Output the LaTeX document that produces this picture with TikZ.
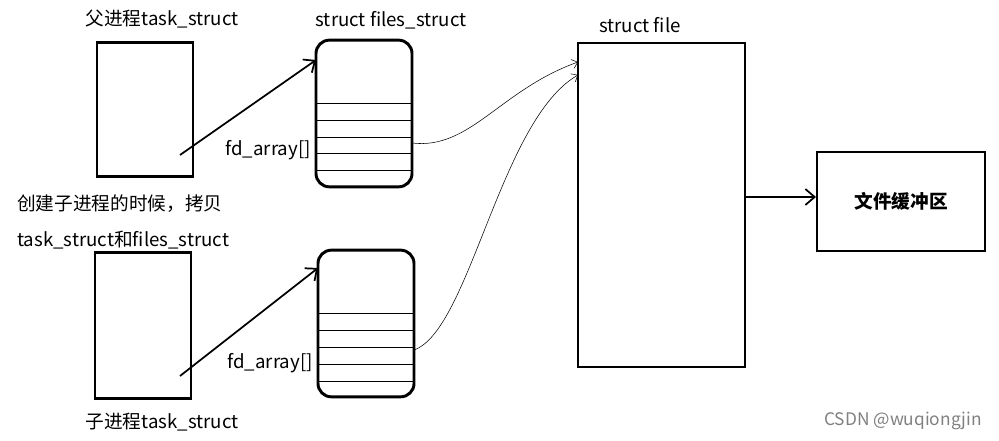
\documentclass[tikz,border=0pt]{standalone}
\usepackage{fontspec}
\setmainfont{Noto Sans CJK SC}
\usetikzlibrary{arrows.meta}
\begin{document}
\begin{tikzpicture}[x=0.75pt,y=-0.75pt,
  box/.style={draw,line width=2.2pt},
  lbl/.style={font=\fontsize{14}{16}\selectfont,inner sep=0pt},
  big/.style={-{Straight Barb[length=7pt,width=12pt]},line width=1.3pt},
  thin/.style={-{Straight Barb[length=4pt,width=7pt]},line width=0.4pt}]
\useasboundingbox (0,0) rectangle (999,441);
% parent
\node[box,minimum width=72pt,minimum height=101pt,inner sep=0pt] (pt) at (145,109.5) {};
\node[lbl] (ptl) at (162,19) {父进程task\_struct};
\node[box,rounded corners=10pt,minimum width=72pt,minimum height=110pt,inner sep=0pt] (pf) at (364,113.5) {};
\foreach \y in {103,120,137,153,170} \draw[line width=0.6pt] (316,\y) -- (412,\y);
\node[lbl] (pfl) at (391,20) {struct files\_struct};
\coordinate (pa) at (180,155);
\coordinate (pb) at (316,60);
\draw[big] (pa) -- (pb);
\node[lbl] (fd1) at (268,150) {fd\_array[]};
% child
\node[box,minimum width=72pt,minimum height=109pt,inner sep=0pt] (ct) at (143,325.5) {};
\node[box,rounded corners=10pt,minimum width=72pt,minimum height=110pt,inner sep=0pt] (cf) at (366,323.5) {};
\foreach \y in {313,330,347,364,381} \draw[line width=0.6pt] (318,\y) -- (414,\y);
\coordinate (ca) at (180,376);
\coordinate (cb) at (318,268);
\draw[big] (ca) -- (cb);
\node[lbl] (fd2) at (270,363) {fd\_array[]};
\node[lbl,anchor=west] (t1) at (17,204) {创建子进程的时候，拷贝};
\node[lbl,anchor=west] (t2) at (17,240) {task\_struct和files\_struct};
\node[lbl] (ctl) at (162,422) {子进程task\_struct};
% struct file
\node[draw,line width=1.5pt,minimum width=125pt,minimum height=243pt,inner sep=0pt] (sf) at (661.5,205) {};
\node[lbl] (sfl) at (640,25) {struct file};
\coordinate (s1) at (412,143);
\coordinate (s2) at (578,62);
\coordinate (s3) at (414,350);
\coordinate (s4) at (578,75);
\draw[thin] (s1) .. controls (470,150) and (500,90) .. (s2);
\draw[thin] (s3) .. controls (470,330) and (500,120) .. (s4);
% buffer
\node[draw,line width=1.5pt,minimum width=126pt,minimum height=74pt,inner sep=0pt,font=\fontsize{14}{16}\selectfont\bfseries] (buf) at (901,201.5) {文件缓冲区};
\draw[big] (sf.east |- 0,197) -- (buf.west |- 0,197);
\node[lbl,text=gray,font=\fontsize{13}{15}\selectfont] (wm) at (903,421) {CSDN @wuqiongjin};
\end{tikzpicture}
\end{document}
